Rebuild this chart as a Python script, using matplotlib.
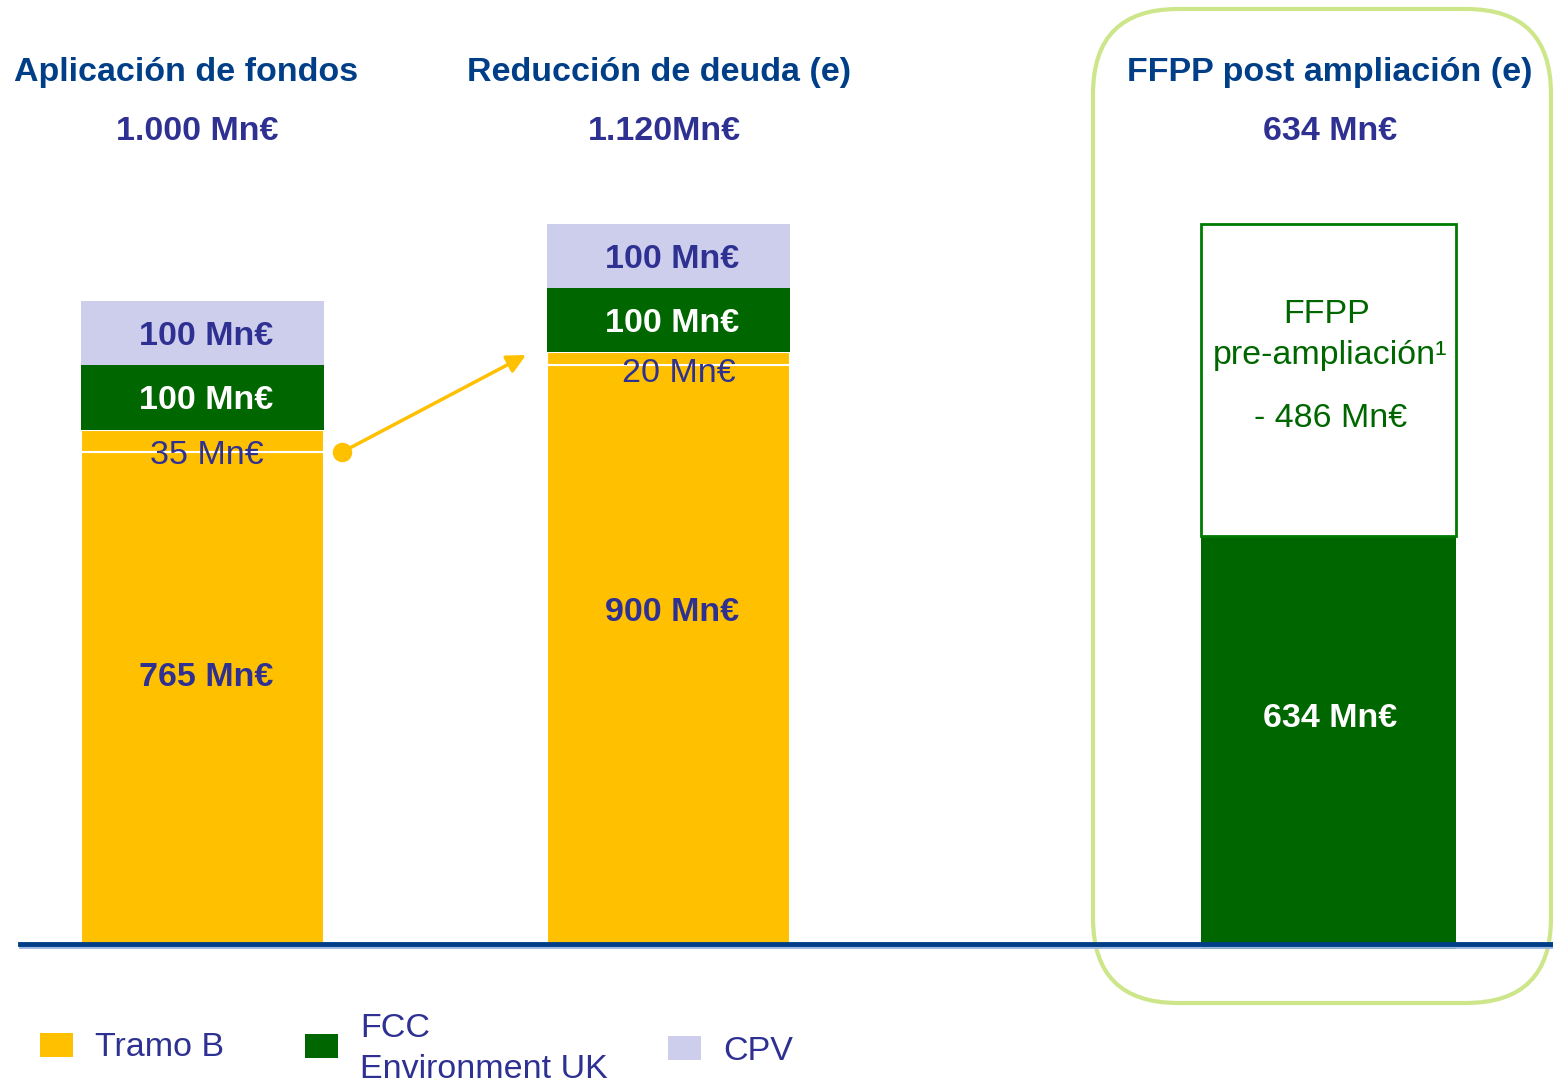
import matplotlib.pyplot as plt
from matplotlib.patches import FancyBboxPatch, Rectangle

# data begin
series = ["Tramo B", "FCC\nEnvironment UK", "CPV"]
tramo_b = [765, 35]          # Aplicación de fondos, split in two parts
reduccion_tramo_b = [900, 20]
fcc_uk = [100, 100]
cpv = [100, 100]
ffpp_post = 634
ffpp_pre = 486
titles = ["Aplicación de fondos", "Reducción de deuda (e)", "FFPP post ampliación (e)"]
totals = ["1.000 Mn€", "1.120Mn€", "634 Mn€"]
# data end

YELLOW = "#FFC000"
GREEN = "#006600"
LILAC = "#CDCDEC"
INDIGO = "#2E3192"
NAVY = "#003F87"
LIME = "#CDE68A"

plt.rcParams['font.family'] = ['Liberation Sans', 'DejaVu Sans']
FS = 24.5

fig = plt.figure(figsize=(15.53, 10.82), dpi=100)

# main axes: x in pixels, y in Mn€ (0.643 px per Mn€, baseline at px 944)
PX = 0.643
ax = fig.add_axes([0, 0, 1, 1])
ax.set_xlim(0, 1553)
ax.set_ylim(-(1082 - 944) / PX, 944 / PX)
ax.axis("off")
DY = -3.5 / PX  # text sits a little lower than plain centring

# decoration axes in pixel coords
deco = fig.add_axes([0, 0, 1, 1], zorder=-1)
deco.set_xlim(0, 1553)
deco.set_ylim(1082, 0)
deco.axis("off")

x1, x2, x3 = 202.5, 668.5, 1328.5
w12, w3 = 243, 255

# bar 1
ax.bar(x1, tramo_b[0], w12, color=YELLOW, edgecolor="white", linewidth=1.5)
ax.bar(x1, tramo_b[1], w12, bottom=tramo_b[0], color=YELLOW, edgecolor="white", linewidth=1.5)
b1 = sum(tramo_b)
ax.bar(x1, fcc_uk[0], w12, bottom=b1, color=GREEN, linewidth=0)
ax.bar(x1, cpv[0], w12, bottom=b1 + fcc_uk[0], color=LILAC, linewidth=0)

# bar 2
ax.bar(x2, reduccion_tramo_b[0] + 5, w12, bottom=-5, color=YELLOW, edgecolor="white", linewidth=1.5)
ax.bar(x2, reduccion_tramo_b[1], w12, bottom=reduccion_tramo_b[0], color=YELLOW,
       edgecolor="white", linewidth=1.5)
b2 = sum(reduccion_tramo_b)
ax.bar(x2, fcc_uk[1], w12, bottom=b2, color=GREEN, linewidth=0)
ax.bar(x2, cpv[1], w12, bottom=b2 + fcc_uk[1], color=LILAC, linewidth=0)

# bar 3
ax.bar(x3, ffpp_post + 8, w3, bottom=-8, color=GREEN, linewidth=0)
ax.bar(x3, ffpp_pre, w3, bottom=ffpp_post, color="white", edgecolor="#007A00", linewidth=2)

# baseline
ax.axhline(-2.5 / PX, xmin=20 / 1553, xmax=1, color="#9DB5E0", lw=2, zorder=5)
ax.axhline(0, xmin=20 / 1553, xmax=1, color=NAVY, lw=3.5, zorder=6)

# labels inside bars
bold = dict(fontsize=FS, fontweight="bold", ha="center", va="center")
norm = dict(fontsize=FS, ha="center", va="center")
ax.text(x1 + 4, b1 + fcc_uk[0] + cpv[0] / 2 + DY, f"{cpv[0]} Mn€", color=INDIGO, **bold)
ax.text(x1 + 4, b1 + fcc_uk[0] / 2 + DY, f"{fcc_uk[0]} Mn€", color="white", **bold)
ax.text(x1 + 4, tramo_b[0] + DY, f"{tramo_b[1]} Mn€", color=INDIGO, **norm)
ax.text(x1 + 4, 420 + DY, f"{tramo_b[0]} Mn€", color=INDIGO, **bold)

ax.text(x2 + 4, b2 + fcc_uk[1] + cpv[1] / 2 + DY, f"{cpv[1]} Mn€", color=INDIGO, **bold)
ax.text(x2 + 4, b2 + fcc_uk[1] / 2 + DY, f"{fcc_uk[1]} Mn€", color="white", **bold)
ax.text(x2 + 10, reduccion_tramo_b[0] - 8 + DY, f"{reduccion_tramo_b[1]} Mn€", color=INDIGO, **norm)
ax.text(x2 + 4, 521 + DY, f"{reduccion_tramo_b[0]} Mn€", color=INDIGO, **bold)

ax.text(x3 + 2, 356 + DY, f"{ffpp_post} Mn€", color="white", **bold)
ax.text(x3 - 2, 984 + DY, "FFPP", color=GREEN, **norm)
ax.text(x3 + 2, 921 + DY, "pre-ampliación¹", color=GREEN, **norm)
ax.text(x3 + 2, 823 + DY, f"- {ffpp_pre} Mn€", color=GREEN, **norm)

# arrow from bar 1 to bar 2
ax.plot(342, tramo_b[0], "o", color=YELLOW, markersize=13, zorder=7)
ax.annotate("", xy=(526, 916), xytext=(342, tramo_b[0]),
            arrowprops=dict(arrowstyle="-|>", color=YELLOW, lw=2.5, mutation_scale=28,
                            shrinkA=0, shrinkB=0), zorder=7)

# titles
for cx, t in zip([186.5, 659, 1330], titles):
    deco.text(cx, 72, t, color=NAVY, fontsize=FS, fontweight="bold", ha="center", va="center")
for cx, t in zip([197.5, 664, 1330], totals):
    deco.text(cx, 131, t, color=INDIGO, fontsize=FS, fontweight="bold", ha="center", va="center")

# rounded frame around third bar
R = 85
deco.add_patch(FancyBboxPatch((1093 + R, 9 + R), 1551 - 1093 - 2 * R, 1003 - 9 - 2 * R,
                              boxstyle=f"round,pad={R}", facecolor="none",
                              edgecolor=LIME, linewidth=3))

# legend
for (lx, ly), col, lab, tx in zip([(40, 1033), (305, 1034), (668, 1036)],
                                  [YELLOW, GREEN, LILAC], series, [95, 360, 723]):
    deco.add_patch(Rectangle((lx, ly), 33, 24, facecolor=col, edgecolor="none"))
    deco.text(tx, ly + 15, lab, color=INDIGO, fontsize=FS, ha="left", va="center",
              linespacing=1.4)

fig.savefig("out.png", dpi=100)
